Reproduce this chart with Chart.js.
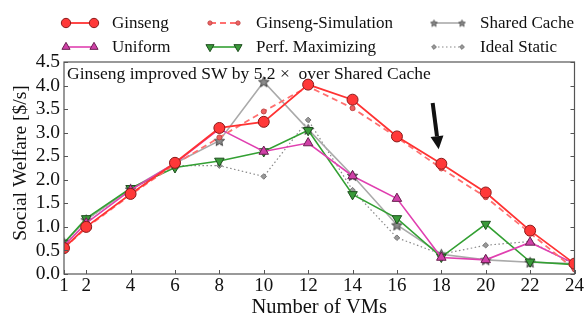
<!DOCTYPE html>
<html>
<head>
<meta charset="utf-8">
<script src="https://cdn.jsdelivr.net/npm/chart.js@4.4.1/dist/chart.umd.min.js"></script>
<style>
  html, body { margin: 0; padding: 0; background: #fff; }
  #wrap { width: 585px; height: 318px; position: relative; }
</style>
</head>
<body>
<div id="wrap"><canvas id="c" width="585" height="318"></canvas></div>
<script>
// datos
const vms = [1, 2, 4, 6, 8, 10, 12, 14, 16, 18, 20, 22, 24];
const xTicks = [1, 2, 4, 6, 8, 10, 12, 14, 16, 18, 20, 22, 24];
const ginseng = [0.55, 1.0, 1.7, 2.36, 3.1, 3.23, 4.02, 3.7, 2.92, 2.34, 1.73, 0.92, 0.22];
const ginsengSim = [0.55, 0.98, 1.68, 2.33, 2.9, 3.45, 3.98, 3.52, 2.9, 2.24, 1.63, 0.87, 0.1];
const uniform = [0.6, 1.08, 1.78, 2.35, 3.08, 2.6, 2.78, 2.08, 1.6, 0.35, 0.3, 0.67, 0.22];
const perfMax = [0.66, 1.18, 1.82, 2.26, 2.4, 2.6, 3.05, 1.69, 1.18, 0.36, 1.06, 0.26, 0.2];
const sharedCache = [0.66, 1.15, 1.8, 2.35, 2.83, 4.08, 3.07, 2.09, 1.04, 0.42, 0.3, 0.25, 0.22];
const idealStatic = [0.65, 1.15, 1.8, 2.3, 2.3, 2.07, 3.27, 1.78, 0.77, 0.42, 0.61, 0.69, 0.2];
const arrowAt = { x0: 17.61, y0: 3.63, x1: 17.88, y1: 2.65 };
const note = 'Ginseng improved SW by 5.2 \u00d7  over Shared Cache';
const xTitle = 'Number of VMs';
const yTitle = 'Social Welfare [$/s]';

const serif = '"Liberation Serif", "DejaVu Serif", serif';

// estrella rellena para Shared Cache
function starImage(size, fill, stroke) {
  const cv = document.createElement('canvas');
  cv.width = size; cv.height = size;
  const g = cv.getContext('2d');
  const cx = size / 2, cy = size / 2 + 0.5, R = size / 2 - 1, r = R * 0.45;
  g.beginPath();
  for (let i = 0; i < 10; i++) {
    const a = -Math.PI / 2 + i * Math.PI / 5;
    const rr = i % 2 === 0 ? R : r;
    g.lineTo(cx + rr * Math.cos(a), cy + rr * Math.sin(a));
  }
  g.closePath();
  g.fillStyle = fill; g.fill();
  g.lineWidth = 1; g.strokeStyle = stroke; g.stroke();
  return cv;
}
const star = starImage(13, '#8a8a8a', '#444');
const starSmall = starImage(9, '#8a8a8a', '#555');

function pts(arr) { return arr.map((v, i) => ({ x: vms[i], y: v })); }

const datasets = [
  { label: 'Ginseng', data: pts(ginseng), borderColor: '#ff3333', backgroundColor: '#ff3838',
    pointBorderColor: '#8a1a1a', pointRadius: 5.5, pointStyle: 'circle', borderWidth: 1.8, order: 1 },
  { label: 'Uniform', data: pts(uniform), borderColor: '#e040b0', backgroundColor: '#d040a8',
    pointBorderColor: '#6a2050', pointRadius: 5.5, pointStyle: 'triangle', borderWidth: 1.6, order: 3 },
  { label: 'Ginseng-Simulation', data: pts(ginsengSim), borderColor: '#ff7070', backgroundColor: '#f06060',
    pointBorderColor: '#c04848', pointRadius: 2.5, pointStyle: 'circle', borderWidth: 1.8, borderDash: [6, 4], order: 2 },
  { label: 'Perf. Maximizing', data: pts(perfMax), borderColor: '#33a033', backgroundColor: '#3a9a3a',
    pointBorderColor: '#1e4e1e', pointRadius: 5.5, pointStyle: 'triangle', rotation: 180, borderWidth: 1.6, order: 4 },
  { label: 'Shared Cache', data: pts(sharedCache), borderColor: '#aaaaaa', backgroundColor: '#8a8a8a',
    pointBorderColor: '#444', pointStyle: star, pointRadius: 6, borderWidth: 1.6, order: 5 },
  { label: 'Ideal Static', data: pts(idealStatic), borderColor: '#888888', backgroundColor: '#999',
    pointBorderColor: '#777', pointRadius: 2.8, pointStyle: 'rectRot', borderWidth: 1.2, borderDash: [1.5, 2.5], order: 6 }
];
datasets.forEach(d => { d.pointBorderWidth = 1; d.tension = 0; d.fill = false; d.pointHoverRadius = d.pointRadius; });

// marco, ticks hacia adentro, titulos, leyenda, nota y flecha
const extras = {
  id: 'extras',
  afterDatasetsDraw(chart) {
    const { ctx, chartArea: a, scales: { x, y } } = chart;
    ctx.save();
    ctx.strokeStyle = '#555'; ctx.lineWidth = 1.2;
    ctx.strokeRect(a.left, a.top, a.right - a.left, a.bottom - a.top);
    ctx.lineWidth = 1;
    xTicks.forEach(t => {
      const px = Math.round(x.getPixelForValue(t)) + 0.5;
      ctx.beginPath(); ctx.moveTo(px, a.bottom); ctx.lineTo(px, a.bottom - 4); ctx.stroke();
    });
    for (let v = 0; v <= 4.5001; v += 0.5) {
      const py = Math.round(y.getPixelForValue(v)) + 0.5;
      ctx.beginPath(); ctx.moveTo(a.left, py); ctx.lineTo(a.left + 4, py);
      ctx.moveTo(a.right, py); ctx.lineTo(a.right - 4, py); ctx.stroke();
    }

    // titulos de ejes
    ctx.fillStyle = '#111';
    ctx.textAlign = 'center';
    ctx.textBaseline = 'middle';
    ctx.font = '20.5px ' + serif;
    ctx.fillText(xTitle, (a.left + a.right) / 2, 308);
    ctx.save();
    ctx.translate(21, 163);
    ctx.rotate(-Math.PI / 2);
    ctx.font = '19.5px ' + serif;
    ctx.fillText(yTitle, 0, 0);
    ctx.restore();

    // nota
    ctx.textAlign = 'left';
    ctx.font = '17.5px ' + serif;
    ctx.fillText(note, a.left + 3, a.top + 12);

    // flecha
    const ax0 = x.getPixelForValue(arrowAt.x0), ay0 = y.getPixelForValue(arrowAt.y0);
    const ax1 = x.getPixelForValue(arrowAt.x1), ay1 = y.getPixelForValue(arrowAt.y1);
    const ang = Math.atan2(ay1 - ay0, ax1 - ax0);
    const hl = 13, hw = 6.5;
    const bx = ax1 - hl * Math.cos(ang), by = ay1 - hl * Math.sin(ang);
    ctx.strokeStyle = '#111'; ctx.fillStyle = '#111'; ctx.lineWidth = 4;
    ctx.beginPath(); ctx.moveTo(ax0, ay0); ctx.lineTo(bx, by); ctx.stroke();
    ctx.beginPath(); ctx.moveTo(ax1, ay1);
    ctx.lineTo(bx + hw * Math.sin(ang), by - hw * Math.cos(ang));
    ctx.lineTo(bx - hw * Math.sin(ang), by + hw * Math.cos(ang));
    ctx.closePath(); ctx.fill();

    // leyenda
    const cols = [66, 210, 434];
    const rows = [23, 47];
    ctx.font = '17px ' + serif;
    const order = ['Ginseng', 'Ginseng-Simulation', 'Shared Cache', 'Uniform', 'Perf. Maximizing', 'Ideal Static'];
    order.forEach((name, i) => {
      const ds = chart.data.datasets.find(d => d.label === name);
      const lx = cols[i % 3], ly = rows[Math.floor(i / 3)];
      ctx.save();
      ctx.strokeStyle = ds.borderColor; ctx.lineWidth = ds.borderWidth;
      ctx.setLineDash(ds.borderDash || []);
      ctx.beginPath(); ctx.moveTo(lx, ly); ctx.lineTo(lx + 28, ly); ctx.stroke();
      ctx.setLineDash([]);
      [lx, lx + 28].forEach(px => {
        const ps = ds.pointStyle === star ? starSmall : ds.pointStyle;
        const opts = { pointStyle: ps, radius: ds.pointRadius * 0.85, rotation: ds.rotation || 0, borderWidth: 1 };
        ctx.fillStyle = ds.backgroundColor; ctx.strokeStyle = ds.pointBorderColor; ctx.lineWidth = 1;
        Chart.helpers.drawPoint(ctx, opts, px, ly);
      });
      ctx.restore();
      ctx.fillStyle = '#111';
      ctx.fillText(name, lx + 46, ly + 1);
    });
    ctx.restore();
  }
};

new Chart(document.getElementById('c'), {
  type: 'line',
  data: { datasets: datasets },
  options: {
    responsive: false,
    animation: false,
    layout: { padding: { top: 62, right: 10, left: 0, bottom: 0 } },
    plugins: { legend: { display: false }, tooltip: { enabled: false } },
    scales: {
      x: {
        type: 'linear', min: 1, max: 24,
        afterBuildTicks: s => { s.ticks = xTicks.map(v => ({ value: v })); },
        afterFit: s => { s.height = 44; },
        grid: { display: false, drawTicks: false },
        border: { display: false },
        ticks: { color: '#111', font: { family: serif, size: 19 }, padding: 1, maxRotation: 0, autoSkip: false }
      },
      y: {
        min: 0, max: 4.5,
        afterFit: s => { s.width = 64; },
        grid: { display: false, drawTicks: false },
        border: { display: false },
        ticks: { stepSize: 0.5, autoSkip: false, color: '#111', font: { family: serif, size: 19.5, lineHeight: 1 }, padding: 4,
          callback: v => v.toFixed(1) }
      }
    }
  },
  plugins: [extras]
});
</script>
</body>
</html>
